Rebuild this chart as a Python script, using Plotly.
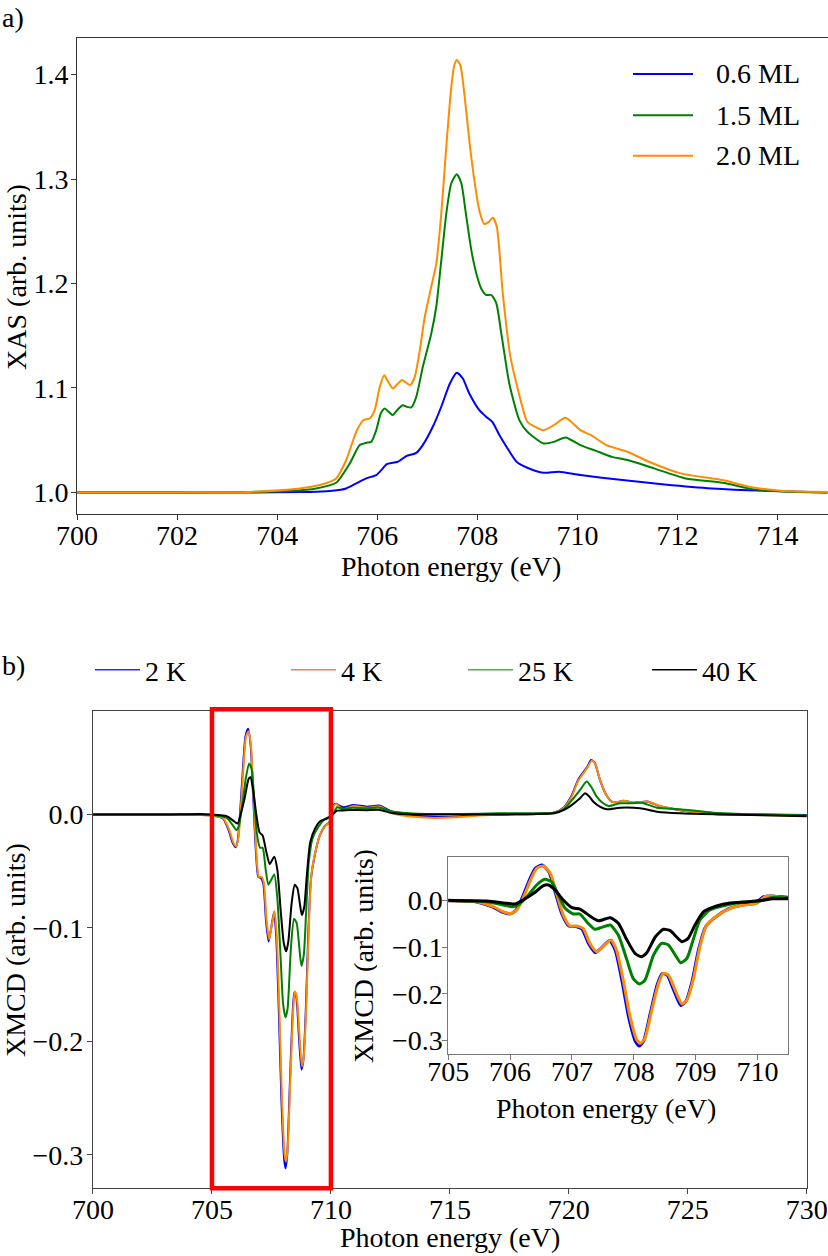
import plotly.graph_objects as go

W, H = 828, 1256
FONT = "Liberation Serif"

# ---- panel a: XAS ----
xas_labels = ["0.6 ML", "1.5 ML", "2.0 ML"]
xas_colors = ["#0000ff", "#008000", "#ff8c00"]

e_06 = [700.0, 702.0, 703.5, 704.5, 704.78, 705.1, 705.38, 705.58, 705.78, 705.98,
        706.08, 706.19, 706.31, 706.41, 706.58, 706.78, 706.91, 707.11, 707.28, 707.45,
        707.59, 707.71, 707.84, 708.04, 708.18, 708.30, 708.44, 708.58, 708.79, 709.0,
        709.32, 709.63, 710.06, 710.9, 711.74, 712.69, 713.74, 715.0]
xas_06 = [1.0, 1.0, 1.0, 1.0003, 1.0006, 1.0015, 1.0038, 1.0086, 1.0134, 1.0166,
          1.0213, 1.027, 1.0283, 1.0293, 1.0347, 1.0379, 1.0453, 1.0628, 1.082, 1.104,
          1.1145, 1.109, 1.0947, 1.0788, 1.0723, 1.0676, 1.055, 1.044, 1.029, 1.0236,
          1.0188, 1.0198, 1.0166, 1.0118, 1.0076, 1.0038, 1.0015, 1.0]

e_15 = [700.0, 702.0, 703.5, 704.3, 704.78, 705.18, 705.45, 705.65, 705.78, 705.88,
        705.98, 706.07, 706.15, 706.23, 706.31, 706.41, 706.51, 706.59, 706.68, 706.78,
        706.91, 707.08, 707.18, 707.28, 707.38, 707.48, 707.59, 707.68, 707.78, 707.88,
        707.98, 708.08, 708.18, 708.28, 708.38, 708.48, 708.64, 708.84, 709.0, 709.32,
        709.53, 709.76, 710.06, 710.37, 710.69, 711.0, 711.53, 712.16, 712.9, 713.53,
        714.27, 715.0]
xas_15 = [1.0, 1.0, 1.0005, 1.0015, 1.0038, 1.0092, 1.0277, 1.0453, 1.0475, 1.0484,
          1.0596, 1.0756, 1.0804, 1.0771, 1.074, 1.0794, 1.0835, 1.082, 1.0813, 1.0915,
          1.120, 1.152, 1.178, 1.222, 1.267, 1.296, 1.3046, 1.296, 1.264, 1.232,
          1.2096, 1.195, 1.189, 1.189, 1.181, 1.152, 1.104, 1.0692, 1.058, 1.0469,
          1.0484, 1.0526, 1.0453, 1.0398, 1.034, 1.031, 1.023, 1.0134, 1.0092, 1.0029,
          1.0006, 1.0]

e_20 = [700.0, 702.0, 703.45, 704.45, 704.85, 705.18, 705.38, 705.58, 705.72, 705.85,
        705.95, 706.05, 706.14, 706.22, 706.31, 706.41, 706.5, 706.58, 706.66, 706.75,
        706.85, 706.95, 707.08, 707.18, 707.28, 707.38, 707.48, 707.54, 707.59, 707.66,
        707.74, 707.84, 707.94, 708.04, 708.14, 708.23, 708.31, 708.39, 708.51, 708.66,
        708.9, 709.0, 709.32, 709.53, 709.76, 710.06, 710.27, 710.58, 711.0, 711.43,
        712.06, 712.9, 713.43, 714.06, 715.0]
xas_20 = [1.0, 1.0, 1.0005, 1.0038, 1.007, 1.0134, 1.031, 1.058, 1.069, 1.0708,
          1.0788, 1.101, 1.1122, 1.1058, 1.0995, 1.104, 1.1075, 1.105, 1.1027, 1.1106,
          1.136, 1.168, 1.197, 1.219, 1.267, 1.331, 1.388, 1.409, 1.414, 1.409,
          1.382, 1.337, 1.299, 1.270, 1.257, 1.259, 1.263, 1.254, 1.190, 1.130,
          1.082, 1.0676, 1.0596, 1.0644, 1.0714, 1.0596, 1.0548, 1.0453, 1.0389, 1.0293,
          1.0182, 1.0118, 1.0054, 1.0015, 1.0003]

# ---- panel b: XMCD ----
xmcd_labels = ["2 K", "4 K", "25 K", "40 K"]
xmcd_colors = ["#0000ff", "#ff8c00", "#008000", "#000000"]
legend_colors = ["#2b2bff", "#f47c5c", "#3cb83c", "#000000"]

e_2k = [700.0, 703.0, 704.5, 705.0, 705.46, 705.7, 705.87, 706.0, 706.09, 706.19,
        706.3, 706.41, 706.52, 706.63, 706.73, 706.84, 706.95, 707.06, 707.16, 707.27,
        707.38, 707.49, 707.61, 707.70, 707.81, 707.92, 708.03, 708.09, 708.16, 708.27,
        708.38, 708.46, 708.54, 708.65, 708.76, 708.84, 708.94, 709.05, 709.16, 709.32,
        709.54, 709.75, 709.97, 710.1, 710.22, 710.31, 710.52, 710.94, 711.5, 712.06,
        712.41, 712.77, 713.5, 714.3, 715.2, 716.2, 717.1, 718.5, 719.39, 719.8,
        720.1, 720.4, 720.6, 720.8, 720.93, 721.08, 721.3, 721.55, 721.8, 722.05,
        722.29, 722.71, 723.0, 723.34, 723.83, 724.67, 726.07, 728.0, 730.0]
xmcd_2k = [0.0, 0.0, -0.0005, -0.001, -0.0035, -0.0137, -0.025, -0.029, -0.022, 0.004,
           0.040, 0.069, 0.0756, 0.060, 0.017, -0.030, -0.055, -0.056, -0.061, -0.093,
           -0.112, -0.100, -0.086, -0.107, -0.173, -0.252, -0.303, -0.312, -0.301, -0.240,
           -0.180, -0.157, -0.160, -0.194, -0.225, -0.217, -0.175, -0.104, -0.057, -0.036,
           -0.018, -0.010, -0.006, 0.008, 0.0095, 0.0084, 0.0063, 0.0084, 0.0069, 0.0078,
           0.004, 0.001, -0.001, -0.002, -0.002, -0.0005, 0.0, 0.0005, 0.0018, 0.0065,
           0.016, 0.031, 0.037, 0.043, 0.048, 0.046, 0.031, 0.018, 0.0113, 0.011,
           0.0122, 0.0104, 0.011, 0.0113, 0.0072, 0.0038, 0.0005, 0.0, -0.0005]

e_4k = [700.0, 703.0, 704.5, 705.0, 705.46, 705.73, 705.89, 706.01, 706.11, 706.21,
        706.32, 706.43, 706.54, 706.65, 706.75, 706.86, 706.97, 707.08, 707.18, 707.29,
        707.40, 707.51, 707.63, 707.72, 707.83, 707.94, 708.05, 708.11, 708.18, 708.29,
        708.40, 708.48, 708.56, 708.67, 708.78, 708.86, 708.96, 709.07, 709.18, 709.34,
        709.56, 709.77, 709.99, 710.12, 710.23, 710.5, 710.94, 711.5, 712.06, 712.41,
        712.77, 713.5, 714.3, 715.2, 716.2, 717.1, 718.5, 719.39, 719.8, 720.1,
        720.4, 720.6, 720.8, 720.96, 721.1, 721.31, 721.55, 721.8, 722.05, 722.29,
        722.71, 723.0, 723.34, 723.83, 724.67, 726.07, 728.0, 730.0]
xmcd_4k = [0.0, 0.0, -0.0005, -0.001, -0.003, -0.0137, -0.0244, -0.028, -0.0208, 0.0043,
           0.0398, 0.0685, 0.0734, 0.0578, 0.015, -0.0315, -0.055, -0.055, -0.060, -0.092,
           -0.110, -0.0979, -0.085, -0.106, -0.171, -0.249, -0.299, -0.306, -0.2955, -0.236,
           -0.178, -0.156, -0.160, -0.192, -0.222, -0.2135, -0.171, -0.099, -0.0529, -0.0336,
           -0.0171, -0.010, -0.0064, 0.0077, 0.0092, 0.0043, 0.0075, 0.006, 0.007, 0.003,
           0.0, -0.002, -0.003, -0.0025, -0.001, 0.0, 0.0005, 0.0016, 0.006, 0.015,
           0.030, 0.036, 0.042, 0.0475, 0.045, 0.0304, 0.018, 0.0113, 0.011, 0.0122,
           0.0104, 0.011, 0.0113, 0.0075, 0.004, 0.0004, -0.0005, -0.0013]

e_25k = [700.0, 703.0, 704.5, 705.0, 705.62, 705.89, 706.03, 706.13, 706.27, 706.43,
         706.56, 706.67, 706.78, 706.89, 707.02, 707.13, 707.26, 707.37, 707.48, 707.62,
         707.75, 707.89, 707.99, 708.09, 708.18, 708.32, 708.45, 708.56, 708.67, 708.76,
         708.86, 708.96, 709.07, 709.23, 709.5, 709.77, 710.04, 710.26, 710.5, 710.9,
         711.5, 712.06, 712.5, 713.0, 714.0, 715.5, 717.0, 718.5, 719.4, 719.8,
         720.1, 720.47, 720.75, 720.95, 721.17, 721.4, 721.66, 722.15, 722.6, 723.06,
         723.7, 724.67, 726.07, 728.0, 730.0]
xmcd_25k = [0.0, 0.0, -0.0003, -0.0005, -0.003, -0.010, -0.0137, -0.010, 0.0077, 0.0328,
            0.045, 0.0398, 0.0113, -0.0171, -0.0293, -0.0293, -0.049, -0.062, -0.058, -0.0529,
            -0.0743, -0.128, -0.167, -0.179, -0.171, -0.117, -0.092, -0.0957, -0.117, -0.1336,
            -0.124, -0.085, -0.042, -0.0208, -0.010, -0.0036, -0.0015, 0.0064, 0.005, 0.006,
            0.0055, 0.006, 0.003, 0.0015, 0.0005, 0.0005, 0.001, 0.001, 0.0015, 0.005,
            0.012, 0.0216, 0.029, 0.024, 0.0157, 0.0105, 0.0075, 0.0099, 0.0098, 0.0104,
            0.006, 0.0046, 0.0016, 0.0, -0.001]

e_40k = [700.0, 703.0, 704.5, 705.0, 705.62, 705.95, 706.08, 706.21, 706.38, 706.54,
         706.62, 706.73, 706.86, 707.0, 707.13, 707.29, 707.43, 707.62, 707.75, 707.89,
         708.02, 708.12, 708.21, 708.35, 708.48, 708.59, 708.69, 708.78, 708.88, 708.99,
         709.13, 709.34, 709.56, 709.83, 710.04, 710.26, 710.5, 710.8, 711.5, 712.06,
         712.6, 713.5, 715.0, 717.0, 718.5, 719.4, 719.8, 720.1, 720.47, 720.68,
         720.85, 721.03, 721.3, 721.59, 722.15, 722.99, 723.7, 724.67, 726.5, 730.0]
xmcd_40k = [0.0, 0.0, 0.0005, 0.0, -0.0014, -0.0064, -0.008, 0.0006, 0.015, 0.0313,
            0.0328, 0.022, 0.0006, -0.0158, -0.0186, -0.0336, -0.0437, -0.0372, -0.049, -0.085,
            -0.1135, -0.1207, -0.112, -0.078, -0.062, -0.065, -0.078, -0.0886, -0.0814, -0.0529,
            -0.0244, -0.0122, -0.0058, -0.0036, -0.0006, 0.0034, 0.0036, 0.004, 0.0038, 0.004,
            0.001, 0.0, 0.0, 0.0, 0.0003, 0.001, 0.004, 0.008, 0.0143, 0.0187,
            0.016, 0.0113, 0.007, 0.0046, 0.006, 0.0055, 0.0025, 0.001, 0.0, -0.0015]

xmcd_e = [e_2k, e_4k, e_25k, e_40k]
xmcd_y = [xmcd_2k, xmcd_4k, xmcd_25k, xmcd_40k]

xas_ticks = [1.0, 1.1, 1.2, 1.3, 1.4]
xmcd_ticks = [-0.3, -0.2, -0.1, 0.0]
zoom_box = [705, 710]


def tick_text(vals):
    return [f"{v:.1f}".replace("-", "\u2212") for v in vals]


fig = go.Figure()

for e, v, c, name in zip([e_06, e_15, e_20], [xas_06, xas_15, xas_20], xas_colors, xas_labels):
    fig.add_trace(go.Scatter(x=e, y=v, mode="lines", name=name, showlegend=False,
                             line=dict(color=c, width=2, shape="spline", smoothing=0.6),
                             xaxis="x", yaxis="y"))

for e, v, c in zip(xmcd_e, xmcd_y, xmcd_colors):
    fig.add_trace(go.Scatter(x=e, y=v, mode="lines", showlegend=False,
                             line=dict(color=c, width=2, shape="spline", smoothing=0.6),
                             xaxis="x2", yaxis="y2"))

for e, v, c in zip(xmcd_e, xmcd_y, xmcd_colors):
    fig.add_trace(go.Scatter(x=e, y=v, mode="lines", showlegend=False,
                             line=dict(color=c, width=3, shape="spline", smoothing=0.6),
                             xaxis="x3", yaxis="y3"))

# legend entries for panel b, one small legend per entry so the spacing follows the original
legend_ids = ["legend2", "legend3", "legend4", "legend5"]
legend_x = [0.1087, 0.3454, 0.5592, 0.7814]
for name, c, lid in zip(xmcd_labels, legend_colors, legend_ids):
    fig.add_trace(go.Scatter(x=[None], y=[None], mode="lines", name=name,
                             line=dict(color=c, width=1.5), legend=lid,
                             xaxis="x2", yaxis="y2"))

tick_font = dict(family=FONT, size=28, color="black")
common = dict(showline=True, mirror=True, ticks="outside", ticklen=5, tickwidth=1,
              showgrid=False, zeroline=False, tickfont=tick_font, automargin=False)

legend_style = dict(y=0.4666, xanchor="left", yanchor="middle",
                    font=dict(family=FONT, size=28, color="black"),
                    bgcolor="rgba(0,0,0,0)", itemwidth=45, borderwidth=0)

fig.update_layout(
    template="none",
    width=W, height=H,
    margin=dict(l=0, r=0, t=0, b=0, pad=0),
    paper_bgcolor="white", plot_bgcolor="rgba(0,0,0,0)",
    font=dict(family=FONT, size=28, color="black"),
    xaxis=dict(domain=[0.093, 0.9995], range=[700, 715], tickvals=list(range(700, 716, 2)),
               anchor="y", linecolor="#333", tickcolor="#333", ticklabelstandoff=-9, **common),
    yaxis=dict(domain=[0.5905, 0.9697], range=[0.979, 1.435], tickvals=xas_ticks,
               ticktext=tick_text(xas_ticks), anchor="x", linecolor="#333", tickcolor="#333",
               ticklabelstandoff=-3, **common),
    xaxis2=dict(domain=[0.1123, 0.9744], range=[700, 730], tickvals=list(range(700, 731, 5)),
                anchor="y2", linecolor="#444", tickcolor="#444", ticklabelstandoff=-9, **common),
    yaxis2=dict(domain=[0.0539, 0.4337], range=[-0.3296, 0.091], tickvals=xmcd_ticks,
                ticktext=tick_text(xmcd_ticks), anchor="x2", linecolor="#444", tickcolor="#444",
                ticklabelstandoff=-2, **common),
    xaxis3=dict(domain=[0.5414, 0.9521], range=[705, 710.5], tickvals=list(range(705, 711)),
                anchor="y3", linecolor="#777", tickcolor="#777", ticklabelstandoff=-13, **common),
    yaxis3=dict(domain=[0.1608, 0.3174], range=[-0.329, 0.092], tickvals=xmcd_ticks,
                ticktext=tick_text(xmcd_ticks), anchor="x3", linecolor="#777", tickcolor="#777",
                ticklabelstandoff=-6, **common),
)
for lid, lx in zip(legend_ids, legend_x):
    fig.update_layout({lid: dict(x=lx, **legend_style)})

# zoom region marker
fig.add_shape(type="rect", xref="x2", yref="y2 domain", x0=zoom_box[0], x1=zoom_box[1],
              y0=0, y1=1.004, line=dict(color="#ff0000", width=4.5), layer="above")

# panel a legend (long line keys, as in the original)
rows = [0.9411, 0.9082, 0.8760]
for name, c, yr in zip(xas_labels, xas_colors, rows):
    fig.add_shape(type="line", xref="paper", yref="paper", x0=0.7645, x1=0.837, y0=yr, y1=yr,
                  line=dict(color=c, width=2))
    fig.add_annotation(text=name, xref="paper", yref="paper", x=0.8625, y=yr,
                       xanchor="left", yanchor="middle", showarrow=False,
                       font=dict(family=FONT, size=28, color="black"))

ann_font = dict(family=FONT, size=28, color="black")
labels = [
    ("a)", 0.0, 0.9857, 0, "left", "middle", None),
    ("b)", 0.0, 0.4705, 0, "left", "middle", None),
    ("Photon energy (eV)", 0.5447, 0.5486, 0, "center", "middle", None),
    ("XAS (arb. units)", 0.0, 0.7795, -90, "left", "middle", 28),
    ("Photon energy (eV)", 0.5435, 0.001, 0, "center", "bottom", None),
    ("XMCD (arb. units)", 0.0, 0.2436, -90, "left", "middle", 28),
    ("Photon energy (eV)", 0.7319, 0.1178, 0, "center", "middle", None),
    ("XMCD (arb. units)", 0.4384, 0.2389, -90, "center", "middle", 28),
]
for text, x, y, ang, xa, ya, hgt in labels:
    fig.add_annotation(text=text, xref="paper", yref="paper", x=x, y=y, xanchor=xa,
                       yanchor=ya, textangle=ang, showarrow=False, font=ann_font,
                       height=hgt)

fig.write_html("out.html", config={"displayModeBar": False},
               post_script="document.body.style.margin='0';")
